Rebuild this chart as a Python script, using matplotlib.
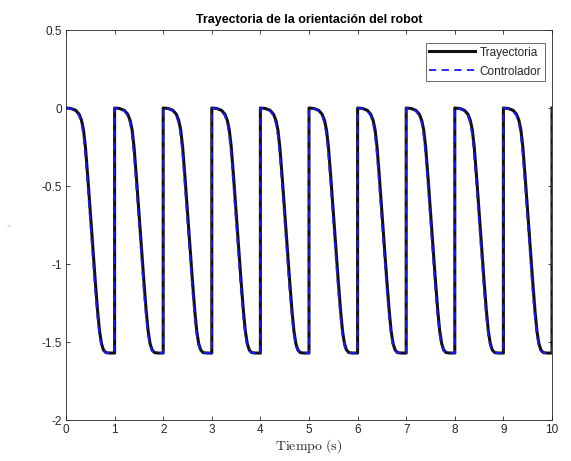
import numpy as np
import matplotlib
matplotlib.use("Agg")
import matplotlib.pyplot as plt

plt.rcParams['axes.unicode_minus'] = False
plt.rcParams['mathtext.fontset'] = 'cm'
plt.rcParams['font.family'] = ['Liberation Sans', 'DejaVu Sans']

# one cycle of the orientation profile (relative time within a 1 s cycle, angle in rad)
cycle_t = [0.00, 0.10, 0.20, 0.27, 0.32, 0.36, 0.40, 0.45, 0.50, 0.55, 0.60,
           0.65, 0.69, 0.73, 0.77, 0.82, 0.90, 1.00]
trayectoria_cycle = [0.00, -0.003, -0.015, -0.04, -0.08, -0.14, -0.25, -0.45, -0.67,
                     -0.89, -1.10, -1.30, -1.43, -1.51, -1.55, -1.568, -1.5708, -1.5708]
controlador_cycle = [0.00, -0.004, -0.02, -0.05, -0.10, -0.18, -0.31, -0.52, -0.74,
                     -0.96, -1.17, -1.35, -1.46, -1.525, -1.558, -1.569, -1.5708, -1.5708]
cycle_starts = [0, 1, 2, 3, 4, 5, 6, 7, 8, 9]
end_time = 10
end_value = 0.0

xticks = [0, 1, 2, 3, 4, 5, 6, 7, 8, 9, 10]
yticks = [-2, -1.5, -1, -0.5, 0, 0.5]
ytick_labels = ['-2', '-1.5', '-1', '-0.5', '0', '0.5']


def build(cycle_vals):
    ts, vs = [], []
    for s in cycle_starts:
        ts.extend([s + c for c in cycle_t])
        vs.extend(cycle_vals)
    ts.append(end_time)
    vs.append(end_value)
    return np.array(ts), np.array(vs)


t_tr, v_tr = build(trayectoria_cycle)
t_ct, v_ct = build(controlador_cycle)

fig = plt.figure(figsize=(5.71, 4.61), dpi=100)
ax = fig.add_axes([66 / 571, 41 / 461, 486 / 571, 390 / 461])

ax.plot(t_tr, v_tr, color='#111111', linewidth=2.2, label='Trayectoria', zorder=3)
ax.plot(t_ct, v_ct, color='#1a1aff', linewidth=1.3, linestyle=(0, (4, 3)),
        label='Controlador', zorder=4)

ax.set_xlim(0, 10)
ax.set_ylim(-2, 0.5)
ax.set_xticks(xticks)
ax.set_xticklabels([str(x) for x in xticks])
ax.set_yticks(yticks)
ax.set_yticklabels(ytick_labels)

gray = '#262626'
for sp in ax.spines.values():
    sp.set_color('#262626')
    sp.set_linewidth(0.6)
ax.tick_params(direction='in', top=True, right=True, length=3, width=0.6,
               labelsize=8.5, colors=gray, pad=3)

ax.set_title('Trayectoria de la orientación del robot', fontsize=9,
             fontweight='bold', pad=5)
ax.set_xlabel(r'$\mathrm{Tiempo\ (s)}$', fontsize=10, labelpad=1, color=gray)
ax.set_ylabel(r'$\prime$', fontsize=5, color='#999999', labelpad=20)

leg = ax.legend(loc='upper right', bbox_to_anchor=(545 / 571, (461 - 43) / 461),
                bbox_transform=fig.transFigure, borderaxespad=0,
                fontsize=8.5, frameon=True, fancybox=False,
                edgecolor='#262626', handlelength=3.9, handletextpad=0.4,
                borderpad=0.3, labelspacing=0.6)
leg.get_frame().set_linewidth(0.6)
for txt in leg.get_texts():
    txt.set_color(gray)

fig.savefig('out.png', dpi=100, facecolor='white')
